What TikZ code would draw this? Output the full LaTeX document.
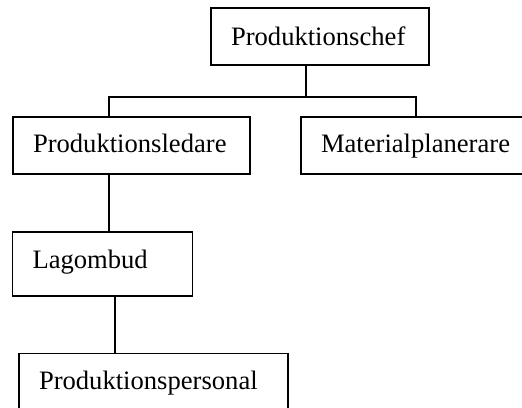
\documentclass[tikz,border=0pt]{standalone}
\usepackage{fontspec}
\setmainfont{Liberation Serif}
\begin{document}
\begin{tikzpicture}[x=1pt,y=-1pt,
  orgbox/.style={draw, line width=1.6pt, rectangle, anchor=north west,
    inner xsep=20pt, inner ysep=0pt, outer sep=0pt, align=left,
    font=\fontsize{26.6}{32}\selectfont},
  link/.style={line width=1.6pt}]
  \useasboundingbox (0,0) rectangle (522,407);
  \clip (0,0) rectangle (522,407);

  % boxes: text width = box width - 40, text height = baseline offset
  \node[orgbox, text width=178pt, text height=37pt, text depth=20pt]
    (chef) at (211,8) {Produktionschef};
  \node[orgbox, text width=197pt, text height=35pt, text depth=22pt]
    (ledare) at (13,117) {Produktionsledare};
  \node[orgbox, text width=190pt, text height=35pt, text depth=22pt]
    (material) at (301,117) {Materialplanerare};
  \node[orgbox, text width=140pt, text height=36pt, text depth=28pt]
    (lagombud) at (12.5,232) {Lagombud};
  \node[orgbox, text width=229pt, text height=35.5pt, text depth=28.5pt]
    (personal) at (19,353.5) {Produktionspersonal};

  % junction points of the connectors
  \coordinate (busM) at (306,97);
  \coordinate (busL) at (109,97);
  \coordinate (busR) at (416,97);
  \coordinate (dropP) at (115,0);

  \draw[link] (chef.south -| busM) -- (busM);
  \draw[link] (ledare.north -| busL) -- (busL) -- (busR) -- (material.north -| busR);
  \draw[link] (ledare.south -| busL) -- (lagombud.north -| busL);
  \draw[link] (lagombud.south -| dropP) -- (personal.north -| dropP);
\end{tikzpicture}
\end{document}
